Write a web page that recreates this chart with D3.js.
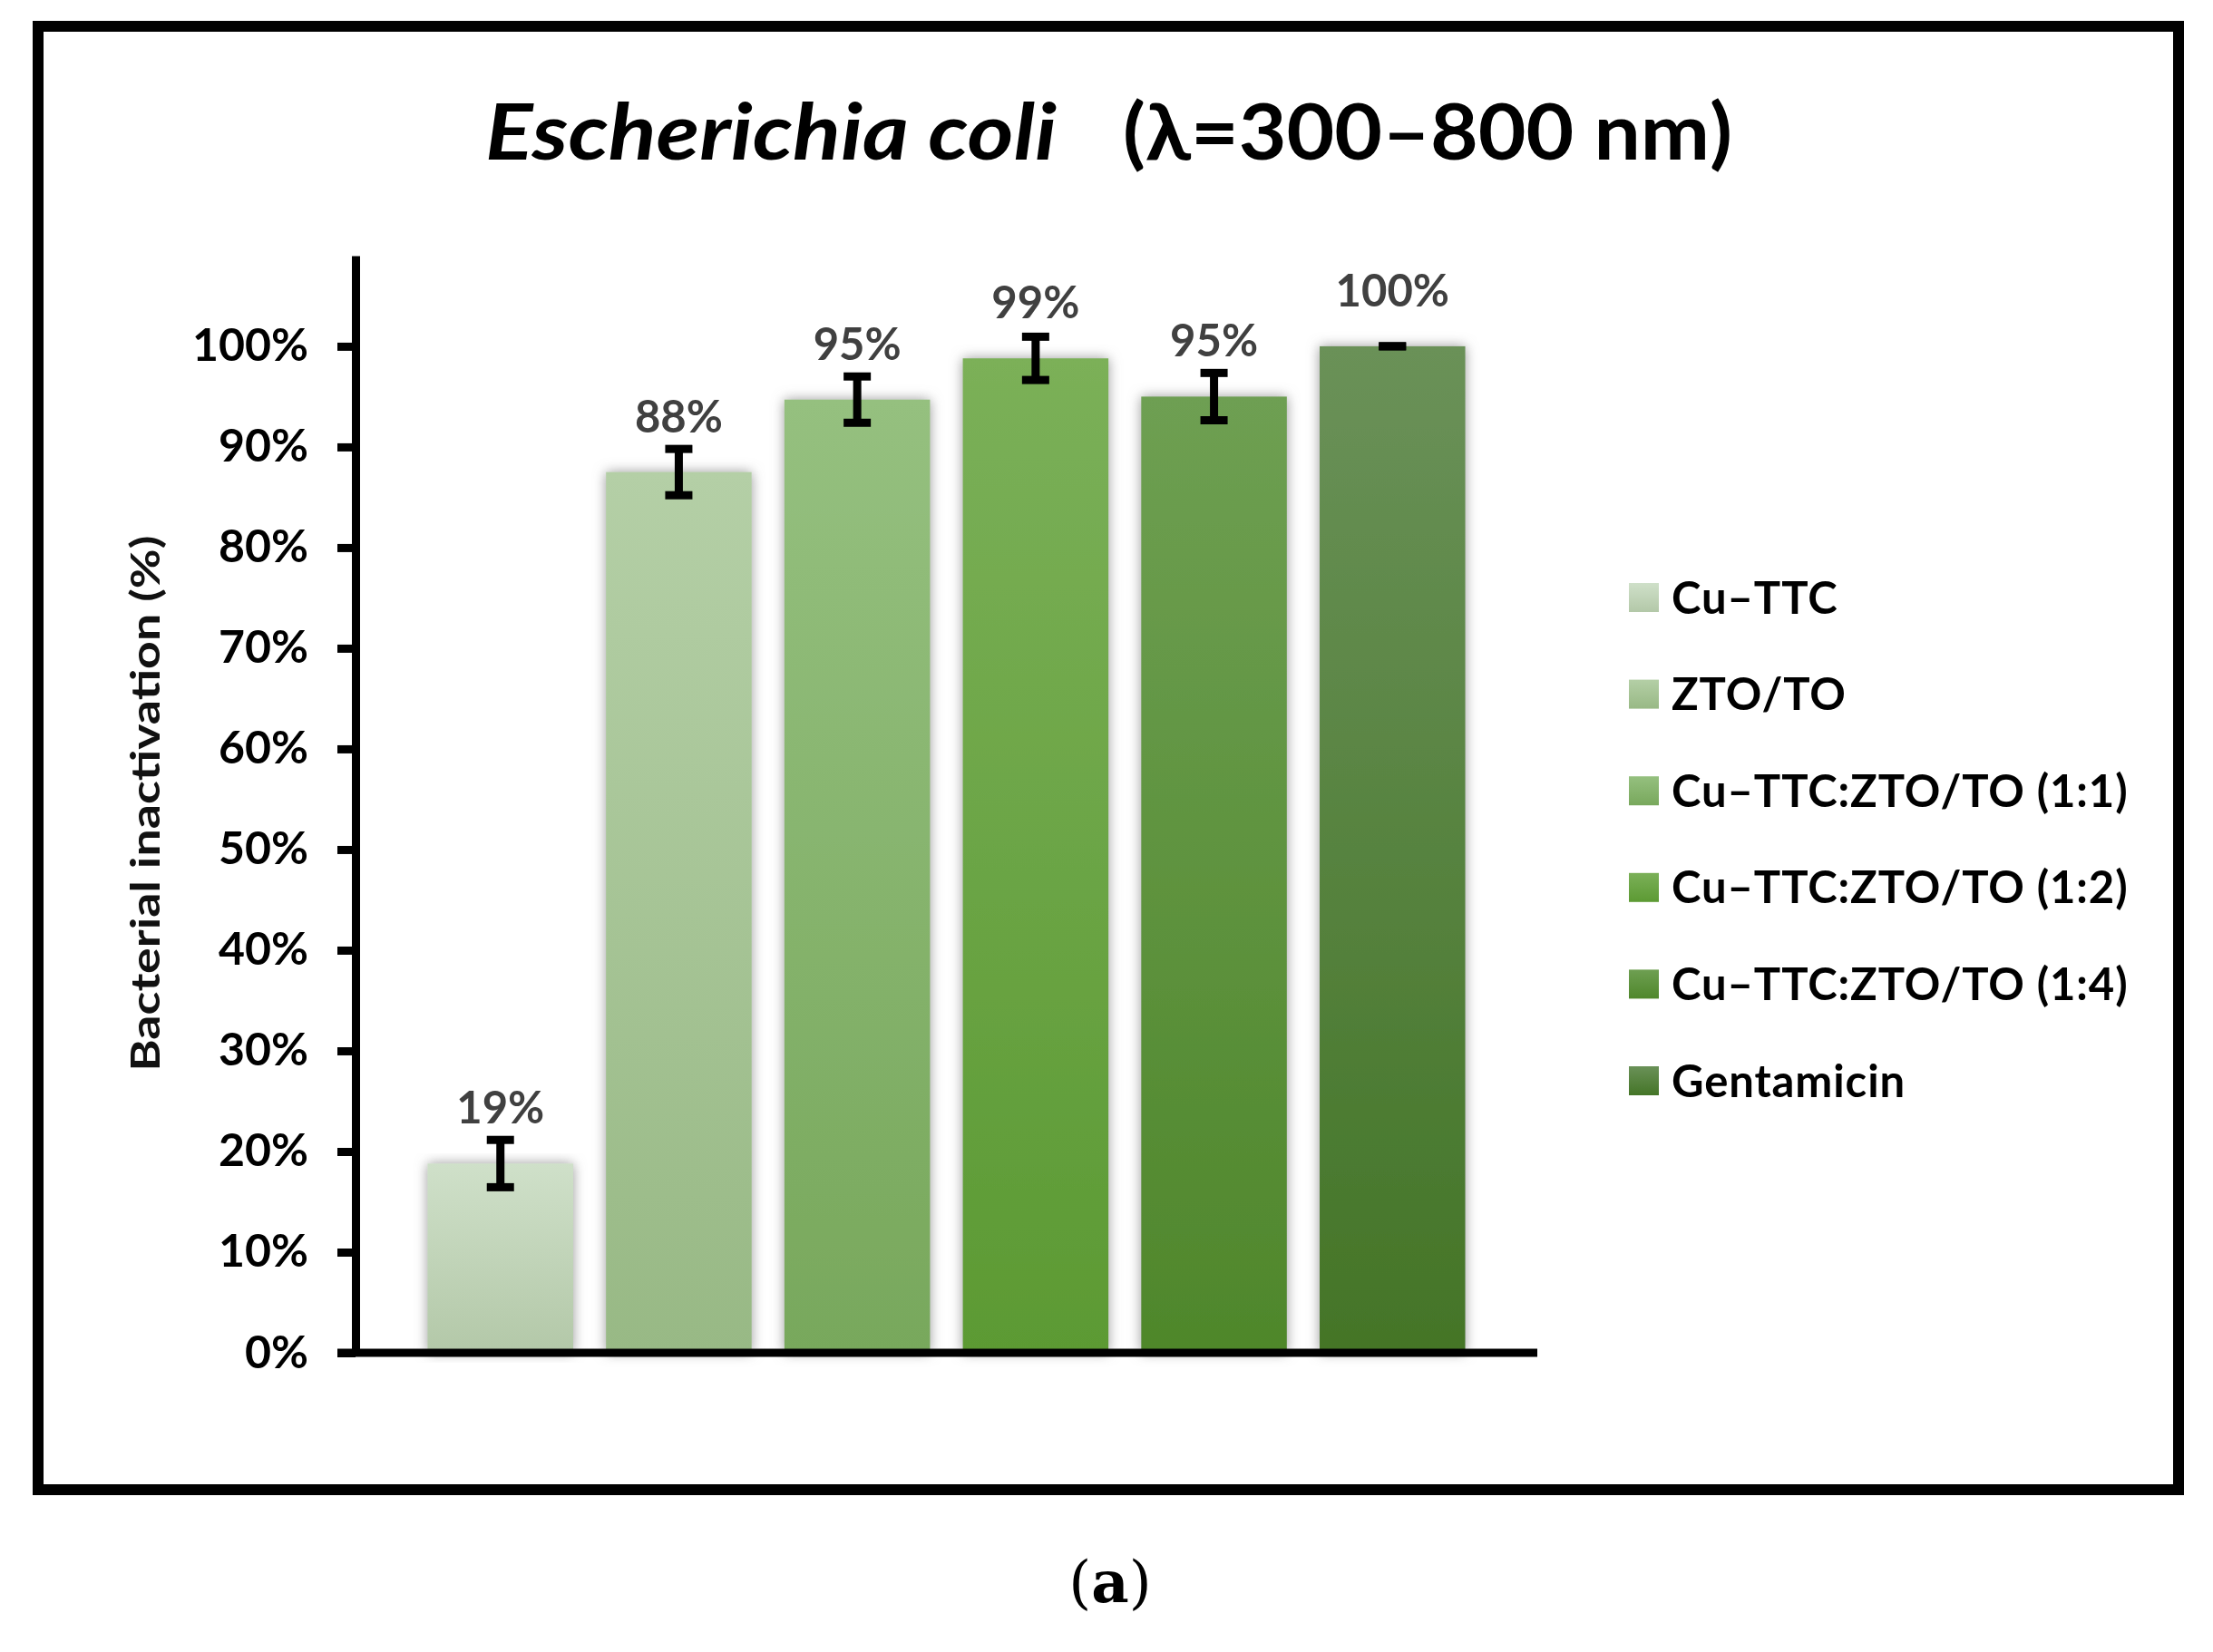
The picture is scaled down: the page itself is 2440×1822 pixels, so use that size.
<!DOCTYPE html>
<html>
<head>
<meta charset="utf-8">
<script src="https://cdn.jsdelivr.net/npm/d3@7"></script>
<style>
  html, body { margin: 0; padding: 0; background: #fff; }
  svg { display: block; }
</style>
</head>
<body>
<script>
// ---- data ----
const categories = ["Cu–TTC", "ZTO/TO", "Cu–TTC:ZTO/TO (1:1)", "Cu–TTC:ZTO/TO (1:2)", "Cu–TTC:ZTO/TO (1:4)", "Gentamicin"];
const values = [0.188, 0.875, 0.947, 0.988, 0.950, 1.000];
const errors = [0.0235, 0.023, 0.023, 0.0215, 0.0235, 0.0];
const valueLabels = ["19%", "88%", "95%", "99%", "95%", "100%"];
const tickValues = [0, 0.1, 0.2, 0.3, 0.4, 0.5, 0.6, 0.7, 0.8, 0.9, 1.0];
const topColors = ["#cfe0c9", "#b4cfa6", "#95c07f", "#7bb058", "#6e9f52", "#6a9158"];
const bottomColors = ["#b3c8a8", "#98b985", "#78a85c", "#5c9a33", "#4f872b", "#447527"];

const W = 2440, H = 1822;
const FONT = "Lato, 'Open Sans', 'DejaVu Sans', sans-serif";

const svg = d3.select("body").append("svg")
  .attr("width", W).attr("height", H)
  .attr("viewBox", `0 0 ${W} ${H}`);

const defs = svg.append("defs");
categories.forEach((c, i) => {
  const g = defs.append("linearGradient").attr("id", "grad" + i)
    .attr("x1", 0).attr("y1", 0).attr("x2", 0).attr("y2", 1);
  g.append("stop").attr("offset", "0%").attr("stop-color", topColors[i]);
  g.append("stop").attr("offset", "100%").attr("stop-color", bottomColors[i]);
});
const f = defs.append("filter").attr("id", "shadow")
  .attr("x", "-20%").attr("y", "-5%").attr("width", "140%").attr("height", "110%");
f.append("feDropShadow").attr("dx", 0).attr("dy", 0).attr("stdDeviation", 7)
  .attr("flood-color", "#777").attr("flood-opacity", 0.75);

// frame
svg.append("rect")
  .attr("x", 42).attr("y", 29).attr("width", 2360).attr("height", 1614)
  .attr("fill", "none").attr("stroke", "#000").attr("stroke-width", 12);

// scales
const y = d3.scaleLinear().domain([0, 1.09]).range([1492, 282]);
const x = d3.scaleBand().domain(categories).range([392, 1695])
  .paddingInner(0.184).paddingOuter(0.404);

// bars
const bars = svg.append("g");
bars.selectAll("rect").data(categories).join("rect")
  .attr("x", d => x(d))
  .attr("y", (d, i) => y(values[i]))
  .attr("width", x.bandwidth())
  .attr("height", (d, i) => y(0) - y(values[i]))
  .attr("fill", (d, i) => `url(#grad${i})`)
  .attr("filter", "url(#shadow)");

// error bars
const eb = svg.append("g").attr("stroke", "#000").attr("stroke-width", 9);
categories.forEach((c, i) => {
  const cx = x(c) + x.bandwidth() / 2;
  const hi = y(values[i] + errors[i]), lo = y(values[i] - errors[i]);
  if (errors[i] > 0) {
    eb.append("line").attr("x1", cx).attr("x2", cx).attr("y1", hi).attr("y2", lo);
  }
  eb.append("line").attr("x1", cx - 15).attr("x2", cx + 15).attr("y1", hi).attr("y2", hi);
  eb.append("line").attr("x1", cx - 15).attr("x2", cx + 15).attr("y1", lo).attr("y2", lo);
});

// value labels
svg.append("g").selectAll("text").data(categories).join("text")
  .attr("x", d => x(d) + x.bandwidth() / 2)
  .attr("y", (d, i) => y(values[i]) - 44)
  .attr("text-anchor", "middle")
  .attr("font-family", FONT).attr("font-weight", "bold")
  .attr("font-size", 49).attr("fill", "#404040")
  .text((d, i) => valueLabels[i]);

// y axis
const yAxis = d3.axisLeft(y).tickValues(tickValues)
  .tickFormat(d3.format(".0%")).tickSize(20).tickSizeOuter(0).tickPadding(32);
const gy = svg.append("g").attr("transform", "translate(392,0)").call(yAxis);
gy.select(".domain").attr("stroke", "#000").attr("stroke-width", 9);
gy.selectAll(".tick line").attr("stroke", "#000").attr("stroke-width", 9);
gy.selectAll(".tick text").attr("font-family", FONT).attr("font-weight", "bold")
  .attr("font-size", 50).attr("fill", "#000");

// x axis line
svg.append("line")
  .attr("x1", 372).attr("x2", x.range()[1])
  .attr("y1", y(0)).attr("y2", y(0))
  .attr("stroke", "#000").attr("stroke-width", 9);

// y axis title
svg.append("text")
  .attr("transform", "translate(176,886) rotate(-90)")
  .attr("text-anchor", "middle")
  .attr("font-family", FONT).attr("font-weight", "bold")
  .attr("font-size", 44).attr("fill", "#111")
  .attr("textLength", 591).attr("lengthAdjust", "spacingAndGlyphs")
  .text("Bacterial inactivation (%)");

// title
svg.append("text")
  .attr("x", 535).attr("y", 176)
  .attr("font-family", FONT).attr("font-weight", "bold").attr("font-style", "italic")
  .attr("font-size", 86).attr("fill", "#000")
  .attr("textLength", 630).attr("lengthAdjust", "spacingAndGlyphs")
  .text("Escherichia coli");
svg.append("text")
  .attr("x", 1238).attr("y", 176)
  .attr("font-family", FONT).attr("font-weight", "bold")
  .attr("font-size", 86).attr("fill", "#000")
  .attr("textLength", 672).attr("lengthAdjust", "spacingAndGlyphs")
  .text("(λ=300–800 nm)");

// legend
const legend = svg.append("g");
const rows = legend.selectAll("g").data(categories).join("g")
  .attr("transform", (d, i) => `translate(1796, ${659 + i * 106.6})`);
rows.append("rect")
  .attr("x", 0).attr("y", -16).attr("width", 33).attr("height", 32)
  .attr("fill", (d, i) => `url(#grad${i})`);
rows.append("text")
  .attr("x", 47).attr("dy", "0.36em")
  .attr("font-family", FONT).attr("font-weight", "bold")
  .attr("font-size", 49).attr("fill", "#000")
  .attr("letter-spacing", 0.9)
  .text(d => d);

// panel label
const pl = svg.append("text")
  .attr("x", 1224).attr("y", 1767)
  .attr("text-anchor", "middle")
  .attr("font-family", "'DejaVu Serif', 'Liberation Serif', serif")
  .attr("font-size", 64).attr("fill", "#000");
pl.append("tspan").text("(");
pl.append("tspan").attr("font-weight", "bold").text("a");
pl.append("tspan").text(")");
</script>
</body>
</html>
